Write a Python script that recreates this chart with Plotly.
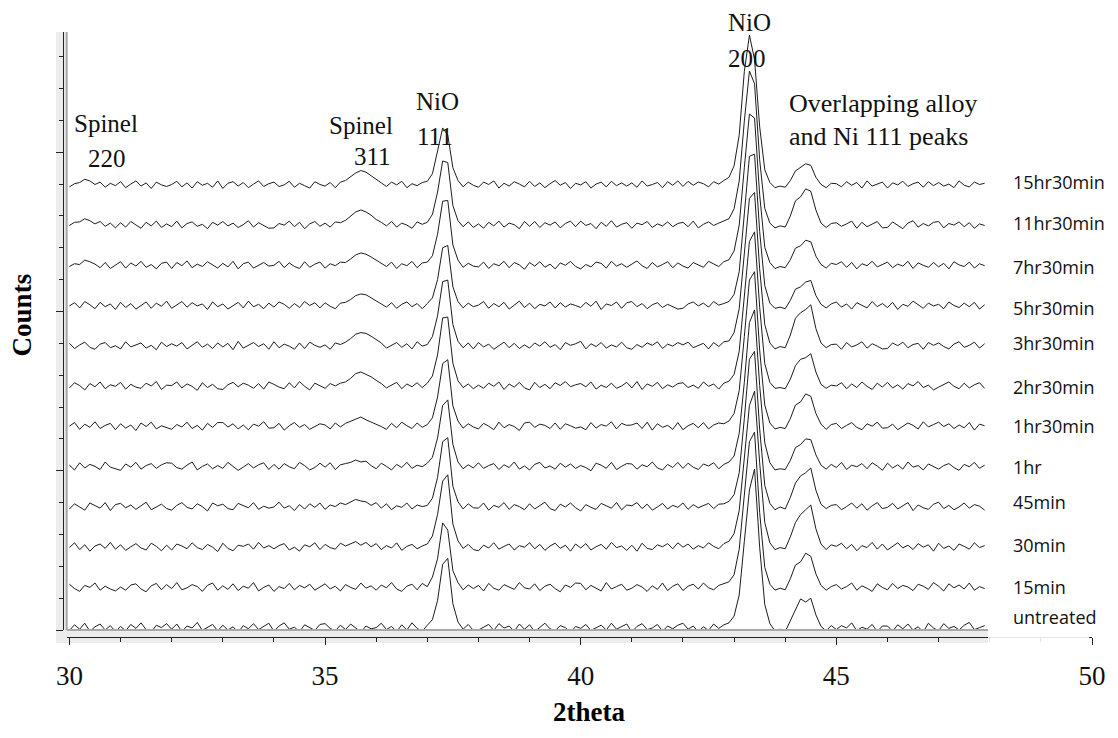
import plotly.graph_objects as go

# 2-theta scan: first angle and step (degrees)
TWO_THETA_START = 30.0
TWO_THETA_STEP = 0.1

# Measured counts per sample, one value per step from 30.0 to 47.9 deg
untreated = [
    9, 23, 12, 27, 7, 18, 25, 10, 21, 6,
    19, 8, 24, 14, 28, 11, 5, 22, 16, 26,
    12, 25, 6, 20, 15, 29, 9, 17, 24, 8,
    22, 10, 18, 4, 21, 13, 26, 11, 19, 27,
    7, 20, 28, 12, 17, 6, 23, 15, 9, 24,
    26, 14, 8, 22, 11, 25, 16, 5, 20, 13,
    16, 27, 11, 19, 6, 23, 10, 28, 14, 7,
    22, 36, 84, 175, 190, 76, 30, 12, 24, 9,
    10, 18, 24, 9, 26, 15, 20, 7, 25, 12,
    23, 6, 17, 27, 13, 8, 21, 16, 4, 19,
    14, 24, 9, 16, 22, 10, 27, 12, 18, 25,
    5, 19, 26, 11, 15, 24, 7, 20, 13, 22,
    27, 12, 20, 6, 18, 9, 25, 14, 23, 28,
    45, 98, 232, 362, 414, 218, 74, 26, 8, 12,
    6, 32, 60, 88, 80, 90, 48, 19, 8, 21,
    11, 21, 15, 28, 8, 17, 12, 24, 6, 20,
    20, 7, 23, 13, 25, 10, 18, 5, 27, 15,
    8, 26, 14, 19, 10, 22, 29, 11, 16, 21,
]
min15 = [
    24, 13, 6, 21, 16, 27, 9, 19, 12, 7,
    17, 9, 22, 25, 12, 5, 20, 26, 10, 23,
    13, 28, 10, 15, 23, 18, 6, 21, 27, 9,
    20, 11, 25, 8, 19, 14, 28, 7, 16, 22,
    6, 18, 13, 26, 10, 21, 15, 24, 9, 17,
    25, 12, 19, 7, 23, 16, 11, 27, 14, 20,
    9, 22, 15, 28, 12, 6, 19, 24, 10, 26,
    18, 42, 88, 178, 160, 58, 28, 10, 22, 13,
    21, 7, 26, 14, 9, 23, 17, 11, 28, 15,
    12, 25, 8, 19, 24, 13, 5, 22, 16, 27,
    26, 10, 21, 15, 7, 28, 12, 18, 24, 9,
    14, 23, 17, 6, 20, 11, 27, 8, 19, 25,
    8, 19, 24, 12, 27, 15, 10, 21, 26, 30,
    48, 112, 248, 382, 406, 204, 66, 24, 9, 14,
    10, 38, 72, 80, 102, 94, 50, 21, 9, 18,
    23, 12, 18, 27, 9, 20, 14, 6, 25, 16,
    10, 26, 13, 21, 17, 8, 24, 19, 11, 28,
    19, 7, 25, 15, 22, 12, 27, 9, 18, 13,
]
min30 = [
    15, 27, 10, 22, 6, 19, 24, 13, 28, 11,
    22, 8, 17, 25, 14, 9, 26, 18, 7, 21,
    9, 24, 19, 12, 27, 15, 10, 23, 16, 5,
    26, 13, 7, 21, 18, 24, 11, 28, 14, 20,
    12, 20, 25, 9, 16, 6, 22, 17, 27, 10,
    23, 15, 11, 26, 19, 24, 30, 21, 28, 17,
    25, 10, 20, 14, 27, 8, 18, 23, 12, 19,
    24, 44, 98, 182, 198, 74, 32, 13, 23, 10,
    7, 21, 14, 27, 11, 18, 24, 9, 20, 16,
    27, 12, 23, 8, 19, 26, 13, 21, 6, 24,
    14, 25, 9, 17, 23, 11, 28, 15, 19, 8,
    21, 6, 26, 13, 10, 22, 17, 25, 12, 27,
    16, 24, 11, 20, 14, 27, 18, 12, 25, 31,
    50, 108, 232, 372, 408, 228, 78, 27, 10, 15,
    12, 42, 78, 98, 110, 122, 62, 24, 10, 22,
    18, 26, 12, 23, 7, 20, 15, 28, 11, 24,
    9, 17, 27, 14, 21, 10, 25, 16, 22, 6,
    26, 13, 19, 8, 24, 18, 11, 27, 15, 20,
]
min45 = [
    11, 24, 16, 8, 26, 19, 13, 27, 7, 22,
    25, 14, 21, 10, 18, 28, 9, 16, 23, 12,
    8, 20, 27, 15, 11, 24, 17, 6, 26, 19,
    23, 12, 9, 25, 20, 14, 27, 10, 18, 13,
    16, 28, 13, 19, 7, 22, 11, 24, 15, 26,
    10, 21, 17, 26, 22, 28, 35, 31, 29, 20,
    27, 13, 24, 9, 19, 15, 26, 11, 21, 17,
    20, 38, 90, 180, 190, 68, 29, 11, 24, 14,
    13, 26, 8, 20, 15, 27, 10, 22, 17, 9,
    24, 11, 19, 28, 12, 7, 23, 16, 26, 14,
    6, 22, 15, 10, 25, 18, 13, 27, 9, 21,
    19, 27, 12, 23, 8, 16, 25, 11, 20, 15,
    26, 10, 22, 14, 19, 25, 12, 23, 24, 30,
    47, 102, 238, 387, 407, 212, 70, 25, 9, 16,
    11, 40, 76, 94, 102, 114, 58, 23, 12, 20,
    22, 9, 17, 26, 13, 24, 8, 19, 27, 12,
    15, 25, 11, 18, 27, 7, 21, 14, 10, 23,
    28, 12, 20, 9, 16, 26, 13, 22, 18, 8,
]
hr1 = [
    20, 8, 26, 13, 22, 17, 9, 28, 15, 11,
    7, 23, 15, 27, 10, 19, 24, 12, 21, 26,
    25, 14, 10, 20, 28, 8, 17, 23, 11, 19,
    12, 27, 18, 7, 15, 24, 13, 21, 26, 9,
    22, 10, 24, 16, 11, 27, 19, 8, 14, 25,
    15, 26, 9, 21, 24, 27, 33, 28, 30, 19,
    11, 25, 17, 8, 22, 14, 27, 12, 20, 16,
    25, 40, 88, 170, 184, 72, 28, 11, 21, 13,
    26, 12, 19, 24, 9, 21, 14, 28, 10, 18,
    8, 22, 27, 13, 18, 10, 25, 15, 23, 12,
    19, 14, 6, 25, 20, 12, 27, 9, 17, 24,
    23, 10, 21, 16, 28, 13, 8, 22, 14, 27,
    12, 25, 15, 9, 23, 18, 26, 11, 22, 28,
    43, 100, 228, 378, 410, 220, 76, 26, 8, 11,
    9, 32, 64, 72, 86, 84, 46, 20, 10, 22,
    14, 27, 9, 20, 16, 24, 11, 26, 18, 7,
    25, 13, 21, 10, 28, 15, 19, 8, 23, 17,
    10, 19, 24, 14, 7, 22, 16, 27, 12, 20,
]
hr1_30 = [
    17, 26, 9, 22, 14, 28, 11, 19, 24, 8,
    23, 12, 20, 6, 25, 16, 27, 10, 18, 13,
    9, 21, 15, 27, 11, 19, 7, 24, 14, 26,
    26, 15, 23, 10, 20, 8, 22, 17, 28, 12,
    13, 24, 7, 18, 26, 14, 21, 9, 16, 23,
    20, 10, 25, 15, 24, 29, 36, 40, 33, 28,
    22, 16, 9, 24, 13, 27, 18, 11, 25, 14,
    21, 38, 90, 174, 184, 68, 30, 12, 23, 15,
    10, 24, 17, 8, 27, 13, 21, 16, 6, 25,
    27, 14, 22, 19, 11, 25, 9, 23, 18, 12,
    15, 8, 26, 12, 21, 17, 28, 10, 24, 19,
    20, 25, 11, 27, 7, 23, 14, 19, 9, 26,
    8, 18, 24, 13, 26, 10, 20, 25, 23, 30,
    49, 106, 242, 384, 405, 208, 70, 25, 10, 14,
    11, 36, 70, 78, 98, 92, 49, 22, 9, 21,
    24, 11, 19, 26, 14, 8, 23, 17, 27, 12,
    13, 22, 8, 16, 25, 19, 10, 28, 15, 21,
    27, 16, 23, 11, 20, 13, 26, 7, 22, 18,
]
hr2_30 = [
    12, 25, 18, 7, 23, 15, 27, 10, 20, 16,
    26, 9, 21, 14, 11, 24, 17, 28, 8, 19,
    18, 27, 12, 22, 16, 6, 25, 13, 21, 10,
    8, 20, 26, 15, 24, 19, 11, 23, 9, 27,
    21, 14, 10, 25, 12, 28, 16, 7, 24, 18,
    11, 23, 17, 24, 27, 36, 48, 52, 47, 40,
    31, 23, 12, 20, 26, 10, 22, 15, 25, 13,
    24, 42, 95, 188, 190, 74, 30, 13, 22, 10,
    19, 11, 24, 16, 27, 8, 22, 14, 26, 12,
    7, 26, 13, 21, 10, 25, 18, 28, 15, 20,
    23, 15, 27, 9, 19, 13, 24, 11, 17, 26,
    12, 28, 8, 22, 16, 26, 10, 20, 14, 23,
    25, 13, 19, 11, 27, 16, 22, 9, 24, 29,
    46, 104, 240, 380, 404, 215, 73, 26, 11, 13,
    10, 34, 68, 84, 88, 98, 52, 21, 11, 19,
    17, 25, 10, 22, 13, 27, 16, 8, 24, 14,
    26, 12, 20, 9, 23, 17, 28, 13, 19, 7,
    14, 21, 27, 16, 10, 24, 12, 20, 25, 11,
]
hr3_30 = [
    23, 10, 19, 26, 13, 8, 21, 25, 12, 17,
    9, 27, 14, 20, 24, 11, 18, 7, 26, 15,
    22, 16, 25, 9, 19, 27, 13, 21, 10, 24,
    14, 23, 7, 28, 11, 17, 25, 15, 22, 8,
    27, 12, 21, 16, 8, 24, 10, 26, 18, 13,
    19, 8, 24, 20, 26, 35, 46, 50, 48, 41,
    32, 24, 11, 19, 25, 13, 22, 9, 27, 16,
    20, 40, 92, 178, 182, 70, 28, 12, 24, 9,
    25, 14, 21, 8, 17, 26, 12, 23, 10, 19,
    11, 24, 16, 27, 13, 20, 7, 25, 18, 22,
    28, 9, 22, 15, 25, 11, 19, 14, 26, 12,
    8, 20, 13, 24, 18, 27, 10, 21, 16, 25,
    19, 26, 12, 17, 23, 9, 25, 15, 27, 29,
    50, 110, 244, 387, 402, 210, 70, 24, 9, 15,
    12, 44, 86, 100, 108, 120, 60, 24, 12, 20,
    21, 8, 25, 14, 19, 27, 11, 22, 16, 9,
    10, 24, 17, 26, 12, 20, 23, 8, 25, 18,
    24, 15, 9, 21, 27, 13, 18, 26, 11, 22,
]
hr5_30 = [
    16, 24, 11, 27, 19, 9, 25, 14, 21, 7,
    25, 12, 22, 8, 17, 26, 10, 23, 15, 28,
    10, 19, 27, 13, 24, 16, 21, 7, 26, 14,
    21, 8, 16, 25, 11, 28, 14, 20, 9, 23,
    13, 26, 20, 10, 22, 12, 27, 17, 24, 11,
    24, 15, 9, 23, 25, 32, 42, 46, 44, 37,
    29, 21, 13, 24, 10, 20, 26, 14, 22, 9,
    22, 36, 82, 162, 168, 64, 27, 11, 23, 14,
    18, 27, 10, 22, 14, 25, 8, 19, 28, 12,
    23, 9, 20, 16, 26, 11, 24, 13, 21, 17,
    12, 25, 15, 28, 7, 21, 17, 26, 10, 24,
    27, 14, 22, 9, 19, 24, 12, 20, 15, 8,
    10, 21, 26, 16, 23, 13, 27, 18, 22, 27,
    45, 102, 247, 392, 397, 203, 67, 23, 10, 13,
    9, 30, 58, 64, 76, 80, 42, 20, 11, 21,
    26, 13, 21, 8, 24, 17, 11, 27, 14, 22,
    12, 25, 7, 20, 15, 28, 19, 10, 23, 16,
    20, 9, 26, 17, 12, 23, 14, 25, 8, 19,
]
hr7_30 = [
    14, 21, 19, 30, 26, 20, 11, 24, 9, 17,
    26, 10, 23, 15, 27, 12, 19, 8, 22, 25,
    9, 24, 16, 28, 11, 20, 14, 26, 17, 10,
    22, 13, 27, 8, 21, 25, 10, 18, 24, 15,
    17, 27, 11, 23, 14, 9, 26, 12, 20, 25,
    10, 21, 16, 25, 24, 33, 43, 48, 45, 38,
    30, 22, 14, 25, 9, 21, 16, 27, 11, 23,
    25, 41, 95, 178, 180, 68, 30, 12, 22, 15,
    13, 25, 9, 21, 16, 27, 11, 24, 18, 7,
    24, 15, 26, 12, 20, 8, 23, 17, 27, 14,
    8, 19, 13, 25, 22, 10, 27, 15, 21, 12,
    21, 28, 16, 9, 24, 13, 19, 26, 11, 23,
    15, 10, 24, 18, 12, 27, 20, 14, 26, 31,
    53, 118, 262, 397, 387, 194, 62, 24, 9, 14,
    11, 31, 60, 66, 80, 76, 40, 19, 10, 22,
    19, 26, 12, 24, 8, 21, 16, 27, 13, 20,
    25, 11, 20, 15, 27, 9, 23, 17, 12, 24,
    13, 22, 8, 26, 18, 14, 25, 10, 21, 16,
]
hr11_30 = [
    16, 24, 25, 33, 28, 20, 26, 14, 22, 10,
    23, 12, 26, 17, 9, 24, 15, 27, 11, 20,
    13, 27, 10, 21, 25, 14, 19, 8, 24, 17,
    26, 15, 22, 11, 18, 28, 12, 23, 16, 9,
    10, 21, 17, 27, 13, 24, 8, 20, 26, 14,
    22, 12, 25, 23, 29, 39, 50, 55, 50, 42,
    31, 24, 15, 26, 12, 22, 17, 9, 25, 19,
    24, 44, 100, 178, 174, 66, 28, 13, 25, 11,
    20, 9, 24, 15, 27, 12, 22, 18, 8, 26,
    14, 26, 11, 23, 17, 25, 10, 21, 27, 13,
    27, 16, 21, 8, 24, 14, 28, 12, 19, 23,
    9, 22, 18, 26, 11, 20, 15, 25, 13, 21,
    24, 13, 27, 10, 19, 25, 16, 22, 27, 33,
    58, 128, 278, 404, 372, 181, 59, 22, 10, 15,
    12, 40, 78, 88, 108, 102, 55, 22, 11, 21,
    23, 14, 20, 27, 9, 24, 13, 19, 26, 10,
    11, 25, 16, 8, 22, 28, 12, 21, 15, 24,
    26, 10, 21, 17, 25, 13, 23, 9, 20, 16,
]
hr15_30 = [
    12, 20, 23, 31, 27, 18, 24, 11, 21, 15,
    25, 10, 19, 27, 14, 22, 8, 24, 17, 13,
    18, 26, 12, 22, 9, 25, 16, 21, 11, 27,
    8, 21, 25, 14, 23, 10, 19, 27, 13, 20,
    24, 13, 17, 26, 11, 21, 15, 9, 25, 18,
    14, 23, 10, 24, 28, 37, 47, 53, 49, 40,
    30, 22, 13, 24, 17, 26, 10, 20, 15, 23,
    26, 45, 102, 160, 142, 60, 28, 12, 24, 16,
    11, 24, 18, 27, 9, 21, 14, 25, 19, 12,
    26, 13, 22, 10, 20, 28, 16, 23, 8, 21,
    17, 25, 9, 19, 24, 12, 26, 15, 22, 14,
    22, 11, 27, 14, 18, 23, 10, 25, 16, 27,
    13, 26, 16, 24, 20, 12, 25, 19, 28, 36,
    65, 142, 302, 393, 332, 163, 55, 23, 10, 14,
    11, 28, 52, 60, 70, 66, 36, 18, 10, 21,
    20, 12, 25, 16, 23, 9, 27, 14, 19, 24,
    9, 22, 17, 26, 13, 20, 24, 11, 25, 15,
    23, 14, 19, 10, 27, 16, 12, 24, 18, 21,
]

# Bottom-to-top stacking order and the label drawn beside each pattern
patterns = [untreated, min15, min30, min45, hr1, hr1_30,
            hr2_30, hr3_30, hr5_30, hr7_30, hr11_30, hr15_30]
sample_labels = ["untreated", "15min", "30min", "45min", "1hr", "1hr30min",
                 "2hr30min", "3hr30min", "5hr30min", "7hr30min",
                 "11hr30min", "15hr30min"]
STACK_OFFSET = 101  # counts added per pattern when stacking
BASE_SHIFT = -10

# Figure geometry (pixels)
W, H = 1118, 738
ML, MR, MT, MB = 63, 16, 32, 101
PW, PH = W - ML - MR, H - MT - MB


def px(x, y):
    """Pixel position -> paper coordinates."""
    return (x - ML) / PW, (H - MB - y) / PH


SERIF = "Liberation Serif, Times New Roman, serif"
SANS = "Open Sans, Lato, sans-serif"

fig = go.Figure()
for i, counts in enumerate(patterns):
    two_theta = [round(TWO_THETA_START + TWO_THETA_STEP * k, 2) for k in range(len(counts))]
    shifted = [c + i * STACK_OFFSET + BASE_SHIFT for c in counts]
    fig.add_trace(go.Scatter(
        x=two_theta, y=shifted, mode="lines",
        line=dict(color="#1c1c1c", width=1),
        name=sample_labels[i], showlegend=False, hoverinfo="skip",
    ))

shapes = []
# light grey bands behind the axes
x0, y0 = px(56, 32)
x1, y1 = px(66, 643)
shapes.append(dict(type="rect", xref="paper", yref="paper", x0=x0, y0=y1, x1=x1, y1=y0,
                   fillcolor="#ececec", line=dict(width=0), layer="below"))
x0, y0 = px(56, 630)
x1, y1 = px(997, 643)
shapes.append(dict(type="rect", xref="paper", yref="paper", x0=x0, y0=y1, x1=x1, y1=y0,
                   fillcolor="#ececec", line=dict(width=0), layer="below"))
# grey frame lines of the plotting area
ax, ay = px(66.7, 32)
bx, by = px(66.7, 630)
shapes.append(dict(type="line", xref="paper", yref="paper", x0=ax, y0=ay, x1=bx, y1=by,
                   line=dict(color="#a8a8a8", width=2)))
cx, cy = px(997, 630)
shapes.append(dict(type="line", xref="paper", yref="paper", x0=bx, y0=by, x1=cx, y1=cy,
                   line=dict(color="#a8a8a8", width=2)))
# white box holding the sample labels
x0, y0 = px(997, 165)
x1, y1 = px(1099, 645)
shapes.append(dict(type="rect", xref="paper", yref="paper", x0=x0, y0=y1, x1=x1, y1=y0,
                   fillcolor="rgba(255,255,255,0.88)", line=dict(width=0), layer="above"))

annotations = []
# sample labels on the right
label_px_y = [617, 587, 545, 502, 467, 426, 387, 343, 308, 267, 223, 182]
for text, ly in zip(sample_labels, label_px_y):
    ax_, ay_ = px(1020, ly)
    annotations.append(dict(text=text, x=ax_, y=ay_, xref="paper", yref="paper",
                            xanchor="left", yanchor="middle", showarrow=False,
                            font=dict(family=SANS, size=18, color="#111")))

# reflection labels
peak_texts = ["Spinel", "220", "Spinel", "311", "NiO", "111", "NiO", "200"]
peak_px = [(106, 123), (107, 158), (364, 126), (376, 156),
           (441, 101), (439, 136), (756, 22), (754, 58)]
for text, (tx, ty) in zip(peak_texts, peak_px):
    ax_, ay_ = px(tx, ty)
    annotations.append(dict(text=text, x=ax_, y=ay_, xref="paper", yref="paper",
                            xanchor="center", yanchor="middle", showarrow=False,
                            font=dict(family=SERIF, size=25, color="#111")))
for text, ty in [("Overlapping alloy", 104), ("and Ni 111 peaks", 136)]:
    ax_, ay_ = px(794, ty)
    annotations.append(dict(text=text, x=ax_, y=ay_, xref="paper", yref="paper",
                            xanchor="left", yanchor="middle", showarrow=False,
                            font=dict(family=SERIF, size=26, color="#111")))

# axis titles
ax_, ay_ = px(594, 712)
annotations.append(dict(text="<b>2theta</b>", x=ax_, y=ay_, xref="paper", yref="paper",
                        xanchor="center", yanchor="middle", showarrow=False,
                        font=dict(family=SERIF, size=27, color="#000")))
ax_, ay_ = px(22, 315)
annotations.append(dict(text="<b>Counts</b>", x=ax_, y=ay_, xref="paper", yref="paper",
                        xanchor="center", yanchor="middle", showarrow=False, textangle=-90,
                        font=dict(family=SERIF, size=27, color="#000")))

x_dom0 = (66.7 - ML) / PW
y_dom0 = 7 / PH

fig.update_layout(
    width=W, height=H,
    margin=dict(l=ML, r=MR, t=MT, b=MB, pad=0),
    paper_bgcolor="white", plot_bgcolor="rgba(0,0,0,0)",
    showlegend=False,
    shapes=shapes, annotations=annotations,
    xaxis=dict(
        domain=[x_dom0, 1], range=[29.946, 50], anchor="free", position=0,
        showgrid=False, zeroline=False,
        showline=True, linecolor="#222", linewidth=1,
        ticks="outside", ticklen=7, tickcolor="#222", tickwidth=1,
        tick0=30, dtick=5,
        minor=dict(ticks="outside", ticklen=4, dtick=1, tickcolor="#222", showgrid=False),
        tickfont=dict(family=SERIF, size=27, color="#111"),
        ticklabelstandoff=8,
    ),
    yaxis=dict(
        domain=[y_dom0, 1], range=[0, 1502], anchor="free", position=0,
        showgrid=False, zeroline=False,
        showline=True, linecolor="#222", linewidth=1,
        ticks="outside", ticklen=7, tickcolor="#222", tickwidth=1,
        tick0=0, dtick=400, showticklabels=False,
        minor=dict(ticks="outside", ticklen=4, dtick=80, tickcolor="#222", showgrid=False),
    ),
)

fig.write_html("out.html")
